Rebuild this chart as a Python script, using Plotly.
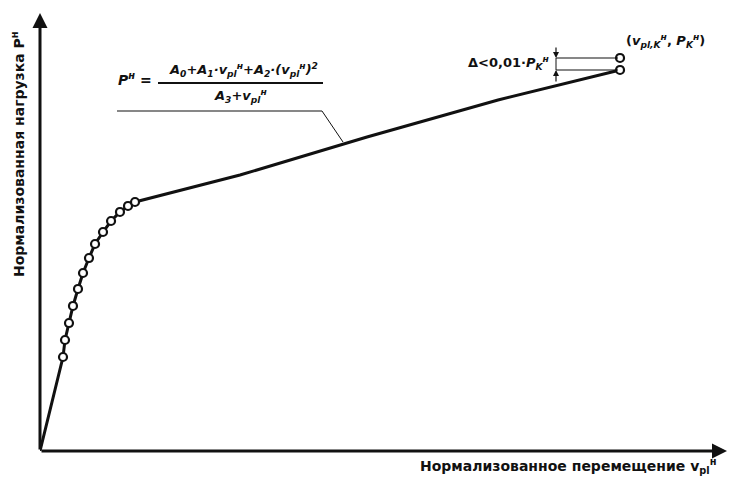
import plotly.graph_objects as go

# Normalized displacement / load, 0..100 units of the drawing
# Fitted load curve P^н(v_pl^н)
curve_x = [0.0, 3.35, 3.64, 4.22, 4.80, 5.53, 6.26, 7.13, 8.01, 9.17, 10.34, 11.64, 12.81, 13.83,
           29.11, 47.60, 66.67, 84.43]
curve_y = [0.0, 21.46, 25.34, 29.22, 33.11, 36.99, 40.64, 44.06, 47.26, 50.00, 52.51, 54.57, 55.94, 56.85,
           63.01, 71.69, 80.14, 86.99]

# Measured points
pts_x = [3.35, 3.64, 4.22, 4.80, 5.53, 6.26, 7.13, 8.01, 9.17, 10.34, 11.64, 12.81, 13.83, 84.43, 84.43]
pts_y = [21.46, 25.34, 29.22, 33.11, 36.99, 40.64, 44.06, 47.26, 50.00, 52.51, 54.57, 55.94, 56.85, 86.99, 89.73]

FONT = "DejaVu Sans"
BLACK = "#111111"


def px_x(p):
    return (p - 40) / 6.87


def px_y(p):
    return (451 - p) / 4.38


def paper_x(p):
    return (p - 40) / 687


def paper_y(p):
    return (451 - p) / 438


fig = go.Figure()

fig.add_trace(go.Scatter(x=curve_x, y=curve_y, mode="lines",
                         line=dict(color=BLACK, width=3), hoverinfo="skip", showlegend=False))
fig.add_trace(go.Scatter(x=pts_x, y=pts_y, mode="markers",
                         marker=dict(symbol="circle", size=8, color="white",
                                     line=dict(color=BLACK, width=2.2)),
                         hoverinfo="skip", showlegend=False))

shapes = []
annotations = []

# Axes with arrowheads
annotations.append(dict(x=0, y=100, ax=0, ay=0, xref="x", yref="y", axref="x", ayref="y",
                        showarrow=True, arrowhead=2, arrowsize=1, arrowwidth=3,
                        arrowcolor=BLACK, text=""))
annotations.append(dict(x=100, y=0, ax=0, ay=0, xref="x", yref="y", axref="x", ayref="y",
                        showarrow=True, arrowhead=2, arrowsize=1, arrowwidth=3,
                        arrowcolor=BLACK, text=""))

# Axis titles
annotations.append(dict(x=paper_x(18), y=paper_y(154), xref="paper", yref="paper", showarrow=False,
                        xanchor="center", yanchor="middle",
                        textangle=-90, text="<b>Нормализованная нагрузка P<sup>н</sup></b>",
                        font=dict(family=FONT, size=14, color=BLACK)))
annotations.append(dict(x=paper_x(718), y=paper_y(466), xref="paper", yref="paper", showarrow=False,
                        xanchor="right", yanchor="middle",
                        text="<b>Нормализованное перемещение v<sub>pl</sub><sup>н</sup></b>",
                        font=dict(family=FONT, size=14, color=BLACK)))

# Formula of the fitted curve
annotations.append(dict(x=px_x(116), y=px_y(79), xref="x", yref="y", showarrow=False,
                        xanchor="left", yanchor="middle", text="<b><i>P<sup>н</sup></i> =</b>",
                        font=dict(family=FONT, size=14, color=BLACK)))
annotations.append(dict(x=px_x(243), y=px_y(70), xref="x", yref="y", showarrow=False,
                        yanchor="middle",
                        text="<b><i>A<sub>0</sub>+A<sub>1</sub>·v<sub>pl</sub><sup>н</sup>+A<sub>2</sub>·(v<sub>pl</sub><sup>н</sup>)<sup>2</sup></i></b>",
                        font=dict(family=FONT, size=13, color=BLACK)))
annotations.append(dict(x=px_x(240), y=px_y(96), xref="x", yref="y", showarrow=False,
                        yanchor="middle",
                        text="<b><i>A<sub>3</sub>+v<sub>pl</sub><sup>н</sup></i></b>",
                        font=dict(family=FONT, size=13, color=BLACK)))
shapes.append(dict(type="line", xref="x", yref="y", x0=px_x(158), x1=px_x(323),
                   y0=px_y(83), y1=px_y(83), line=dict(color=BLACK, width=2)))
shapes.append(dict(type="line", xref="x", yref="y", x0=px_x(117), x1=px_x(322),
                   y0=px_y(111), y1=px_y(111), line=dict(color=BLACK, width=1.2)))
shapes.append(dict(type="line", xref="x", yref="y", x0=px_x(322), x1=px_x(343),
                   y0=px_y(111), y1=px_y(142), line=dict(color=BLACK, width=1)))

# Tolerance band at the end point
shapes.append(dict(type="line", xref="x", yref="y", x0=px_x(556), x1=px_x(618),
                   y0=px_y(58), y1=px_y(58), line=dict(color=BLACK, width=1.2)))
shapes.append(dict(type="line", xref="x", yref="y", x0=px_x(556), x1=px_x(618),
                   y0=px_y(70), y1=px_y(70), line=dict(color=BLACK, width=1.2)))
shapes.append(dict(type="line", xref="x", yref="y", x0=px_x(556), x1=px_x(556),
                   y0=px_y(58), y1=px_y(70), line=dict(color=BLACK, width=1)))
annotations.append(dict(x=px_x(556), y=px_y(58), ax=px_x(556), ay=px_y(46), xref="x", yref="y",
                        axref="x", ayref="y", showarrow=True, arrowhead=2, arrowsize=1,
                        arrowwidth=1.2, arrowcolor=BLACK, text=""))
annotations.append(dict(x=px_x(556), y=px_y(70), ax=px_x(556), ay=px_y(83), xref="x", yref="y",
                        axref="x", ayref="y", showarrow=True, arrowhead=2, arrowsize=1,
                        arrowwidth=1.2, arrowcolor=BLACK, text=""))
annotations.append(dict(x=px_x(551), y=px_y(63), xref="x", yref="y", showarrow=False,
                        xanchor="right", yanchor="middle",
                        text="<b>Δ<0,01·<i>P<sub>K</sub><sup>н</sup></i></b>",
                        font=dict(family=FONT, size=13, color=BLACK)))
annotations.append(dict(x=px_x(624), y=px_y(41), xref="x", yref="y", showarrow=False,
                        xanchor="left", yanchor="middle",
                        text="<b>(<i>v<sub>pl,K</sub><sup>н</sup></i>, <i>P<sub>K</sub><sup>н</sup></i>)</b>",
                        font=dict(family=FONT, size=13, color=BLACK)))

fig.update_layout(
    width=730, height=486, autosize=False,
    margin=dict(l=40, r=3, t=13, b=35),
    paper_bgcolor="white", plot_bgcolor="white",
    xaxis=dict(range=[0, 100], visible=False, fixedrange=True),
    yaxis=dict(range=[0, 100], visible=False, fixedrange=True),
    shapes=shapes, annotations=annotations, showlegend=False,
)

fig.write_html("out.html")
